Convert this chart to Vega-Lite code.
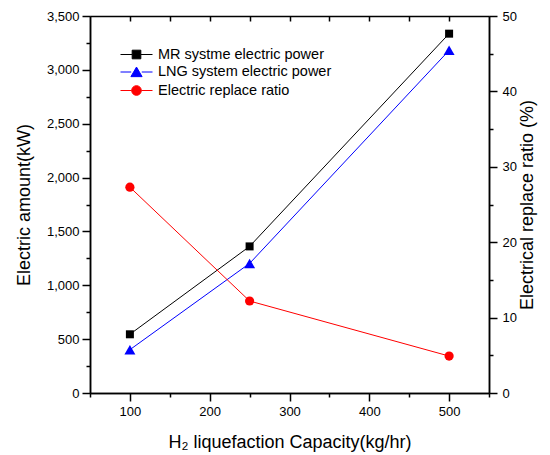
{
  "$schema": "https://vega.github.io/schema/vega-lite/v6.json",
  "width": 399,
  "height": 377,
  "autosize": {"type": "none"},
  "padding": {"left": 90, "top": 16, "right": 61, "bottom": 62},
  "background": "white",
  "config": {
    "font": "Liberation Sans",
    "view": {"stroke": null},
    "axis": {
      "domainColor": "#000", "domainWidth": 1.5, "tickColor": "#000", "tickWidth": 1.5,
      "labelColor": "#000", "labelFontSize": 13, "labelFont": "Liberation Sans",
      "titleFont": "Liberation Sans", "titleFontSize": 18, "titleFontWeight": "normal",
      "titleColor": "#000", "grid": false, "labelFlush": false, "labelOverlap": false
    },
    "legend": {
      "orient": "none", "legendX": 38, "legendY": 30, "title": null, "padding": 0,
      "labelFont": "Liberation Sans", "labelFontSize": 14.5, "labelColor": "#000", "labelOffset": 13, "labelLimit": 400,
      "rowPadding": 2.5, "symbolSize": 256, "symbolStrokeWidth": 1, "symbolOpacity": 1
    }
  },
  "datasets": {
    "power": [
      {"capacity": 100, "series": "MR systme electric power", "kW": 545},
      {"capacity": 250, "series": "MR systme electric power", "kW": 1361},
      {"capacity": 500, "series": "MR systme electric power", "kW": 3336},
      {"capacity": 100, "series": "LNG system electric power", "kW": 402},
      {"capacity": 250, "series": "LNG system electric power", "kW": 1203},
      {"capacity": 500, "series": "LNG system electric power", "kW": 3181}
    ],
    "ratio": [
      {"capacity": 100, "series": "Electric replace ratio", "ratio": 27.3},
      {"capacity": 250, "series": "Electric replace ratio", "ratio": 12.2},
      {"capacity": 500, "series": "Electric replace ratio", "ratio": 4.9}
    ]
  },
  "layer": [
    {
      "data": {"name": "power"},
      "layer": [
        {
          "mark": {"type": "line", "strokeWidth": 1},
          "encoding": {
            "x": {"field": "capacity", "type": "quantitative", "scale": {"domain": [50, 550], "nice": false, "zero": false},
                  "axis": {"orient": "bottom", "values": [50, 150, 250, 350, 450, 550], "tickSize": 4, "labels": false, "title": null}},
            "y": {"field": "kW", "type": "quantitative", "scale": {"domain": [0, 3500], "nice": false},
                  "axis": {"orient": "left", "values": [250, 750, 1250, 1750, 2250, 2750, 3250], "tickSize": 4, "labels": false, "title": null}},
            "color": {"field": "series", "type": "nominal",
                      "scale": {"domain": ["MR systme electric power", "LNG system electric power", "Electric replace ratio"], "range": ["#000000", "#0000ff", "#ff0000"]},
                      "legend": {
                        "encode": {"symbols": {"update": {
                          "shape": {"signal": "datum.value == 'MR systme electric power' ? 'M-2,0H-0.54M0.54,0H2M-0.54,-0.54H0.54V0.54H-0.54Z' : datum.value == 'LNG system electric power' ? 'M-2,0H-0.66M0.66,0H2M0,-0.62L0.7,0.58H-0.7Z' : 'M-2,0H-0.6M0.6,0H2M-0.6,0A0.6,0.6,0,1,0,0.6,0A0.6,0.6,0,1,0,-0.6,0Z'"},
                          "fill": {"signal": "datum.value == 'MR systme electric power' ? '#000000' : datum.value == 'LNG system electric power' ? '#0000ff' : '#ff0000'"},
                          "stroke": {"signal": "datum.value == 'MR systme electric power' ? '#000000' : datum.value == 'LNG system electric power' ? '#0000ff' : '#ff0000'"},
                          "size": {"value": 256},
                          "strokeWidth": {"value": 1},
                          "opacity": {"value": 1}
                        }}}
                      }}
          }
        },
        {
          "transform": [{"filter": "datum.series == 'MR systme electric power'"}],
          "mark": {"type": "point", "filled": true, "opacity": 1, "shape": "square", "size": 64},
          "encoding": {
            "x": {"field": "capacity", "type": "quantitative", "scale": {"domain": [50, 550], "nice": false, "zero": false},
                  "axis": {"orient": "bottom", "values": [100, 200, 300, 400, 500], "tickSize": 8, "labelPadding": 4, "title": "H₂ liquefaction Capacity(kg/hr)", "titlePadding": 15}},
            "y": {"field": "kW", "type": "quantitative", "scale": {"domain": [0, 3500], "nice": false},
                  "axis": {"orient": "left", "values": [0, 500, 1000, 1500, 2000, 2500, 3000, 3500], "labelExpr": "format(datum.value, ',')", "tickSize": 8, "labelPadding": 3, "title": "Electric amount(kW)", "titlePadding": 13}},
            "color": {"field": "series", "type": "nominal",
                      "scale": {"domain": ["MR systme electric power", "LNG system electric power", "Electric replace ratio"], "range": ["#000000", "#0000ff", "#ff0000"]}}
          }
        },
        {
          "transform": [{"filter": "datum.series == 'LNG system electric power'"}],
          "mark": {"type": "point", "filled": true, "opacity": 1, "shape": "triangle-up", "size": 120},
          "encoding": {
            "x": {"field": "capacity", "type": "quantitative", "scale": {"domain": [50, 550], "nice": false, "zero": false}, "axis": null},
            "y": {"field": "kW", "type": "quantitative", "scale": {"domain": [0, 3500], "nice": false}, "axis": null},
            "color": {"field": "series", "type": "nominal",
                      "scale": {"domain": ["MR systme electric power", "LNG system electric power", "Electric replace ratio"], "range": ["#000000", "#0000ff", "#ff0000"]}}
          }
        }
      ],
      "resolve": {"axis": {"x": "independent", "y": "independent"}}
    },
    {
      "data": {"name": "ratio"},
      "layer": [
        {
          "mark": {"type": "line", "strokeWidth": 1},
          "encoding": {
            "x": {"field": "capacity", "type": "quantitative", "scale": {"domain": [50, 550], "nice": false, "zero": false},
                  "axis": {"orient": "top", "values": [100, 150, 200, 250, 300, 350, 400, 450, 500], "tickSize": -5, "labels": false, "title": null}},
            "y": {"field": "ratio", "type": "quantitative", "scale": {"domain": [0, 50], "nice": false},
                  "axis": {"orient": "right", "values": [5, 15, 25, 35, 45], "tickSize": 4, "labels": false, "title": null}},
            "color": {"field": "series", "type": "nominal",
                      "scale": {"domain": ["MR systme electric power", "LNG system electric power", "Electric replace ratio"], "range": ["#000000", "#0000ff", "#ff0000"]}}
          }
        },
        {
          "mark": {"type": "point", "filled": true, "opacity": 1, "shape": "circle", "size": 85},
          "encoding": {
            "x": {"field": "capacity", "type": "quantitative", "scale": {"domain": [50, 550], "nice": false, "zero": false}, "axis": null},
            "y": {"field": "ratio", "type": "quantitative", "scale": {"domain": [0, 50], "nice": false},
                  "axis": {"orient": "right", "values": [0, 10, 20, 30, 40, 50], "tickSize": 8, "labelPadding": 5, "title": "Electrical replace ratio (%)", "titleAngle": 270, "titleBaseline": "top", "titlePadding": 2}},
            "color": {"field": "series", "type": "nominal",
                      "scale": {"domain": ["MR systme electric power", "LNG system electric power", "Electric replace ratio"], "range": ["#000000", "#0000ff", "#ff0000"]}}
          }
        }
      ],
      "resolve": {"axis": {"x": "independent", "y": "independent"}}
    }
  ],
  "resolve": {"scale": {"y": "independent"}, "axis": {"x": "independent", "y": "independent"}}
}
